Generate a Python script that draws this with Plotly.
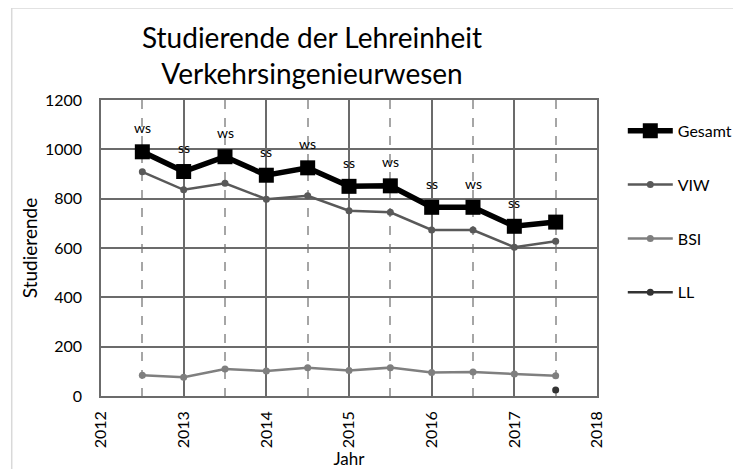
import plotly.graph_objects as go

years = [2012.5, 2013, 2013.5, 2014, 2014.5, 2015, 2015.5, 2016, 2016.5, 2017, 2017.5]
gesamt = [990, 910, 970, 895, 925, 850, 852, 765, 765, 688, 705]
viw = [909, 836, 862, 798, 812, 751, 745, 673, 673, 603, 627]
bsi = [84, 76, 109, 101, 115, 103, 115, 95, 97, 89, 82]
ll_years = [2017.5]
ll = [24]
semester = ["ws", "ss", "ws", "ss", "ws", "ss", "ws", "ss", "ws", "ss", ""]

FONT = "Lato"
fig = go.Figure()
fig.add_trace(go.Scatter(x=years, y=gesamt, name="Gesamt", mode="lines+markers",
                         line=dict(color="#000000", width=5.5),
                         marker=dict(symbol="square", size=15, color="#000000"),
                         legendgroup="a"))
fig.add_trace(go.Scatter(x=years, y=viw, name="VIW", mode="lines+markers",
                         line=dict(color="#595959", width=2.5),
                         marker=dict(symbol="circle", size=7, color="#595959"),
                         legendgroup="b"))
fig.add_trace(go.Scatter(x=years, y=bsi, name="BSI", mode="lines+markers",
                         line=dict(color="#7f7f7f", width=2.5),
                         marker=dict(symbol="circle", size=7, color="#7f7f7f"),
                         legendgroup="c"))
fig.add_trace(go.Scatter(x=ll_years, y=ll, name="LL", mode="lines+markers",
                         line=dict(color="#333333", width=2.5),
                         marker=dict(symbol="circle", size=7, color="#333333"),
                         legendgroup="d"))

for xv, yv, s in zip(years, gesamt, semester):
    if s:
        fig.add_annotation(x=xv, y=yv, text=s, showarrow=False, yshift=24,
                           font=dict(family=FONT, size=14, color="#000000"))

fig.add_shape(type="rect", xref="paper", yref="paper", x0=-0.18, x1=1.4, y0=-0.4, y1=1.311,
              line=dict(color="#d9d9d9", width=1.5), layer="below")

fig.update_layout(
    width=741, height=469,
    margin=dict(l=93, r=148, t=92, b=81),
    paper_bgcolor="white", plot_bgcolor="white",
    font=dict(family=FONT, color="#000000"),
    title=dict(text="Studierende der Lehreinheit<br>Verkehrsingenieurwesen",
               x=304 / 741, xanchor="center", y=1 - 40 / 469, yanchor="middle",
               font=dict(family=FONT, size=28, color="#000000")),
    legend=dict(x=1.052, xanchor="left", y=0.953, yanchor="top",
                font=dict(family=FONT, size=16, color="#000000"),
                tracegroupgap=30, itemwidth=45, bgcolor="rgba(0,0,0,0)"),
    showlegend=True,
)
fig.update_xaxes(range=[2012, 2018], dtick=1, tick0=2012, tickangle=-90,
                 showgrid=True, gridcolor="#6b6b6b", gridwidth=1.5,
                 showline=True, linecolor="#6b6b6b", linewidth=1.5, mirror=True,
                 zeroline=False, ticks="", ticklabelstandoff=7,
                 minor=dict(tick0=2012.5, dtick=1, showgrid=True, griddash="dash",
                            gridcolor="#a6a6a6", gridwidth=1.5),
                 tickfont=dict(family=FONT, size=16, color="#000000"),
                 title=dict(text="Jahr", standoff=0, font=dict(family=FONT, size=17, color="#000000")))
fig.update_yaxes(range=[0, 1200], dtick=200, tick0=0,
                 showgrid=True, gridcolor="#6b6b6b", gridwidth=1.5,
                 showline=True, linecolor="#6b6b6b", linewidth=1.5, mirror=True,
                 zeroline=False, ticks="", ticklabelstandoff=14,
                 tickfont=dict(family=FONT, size=16, color="#000000"),
                 title=dict(text="Studierende", standoff=2, font=dict(family=FONT, size=19, color="#000000")))

fig.write_html("out.html")
